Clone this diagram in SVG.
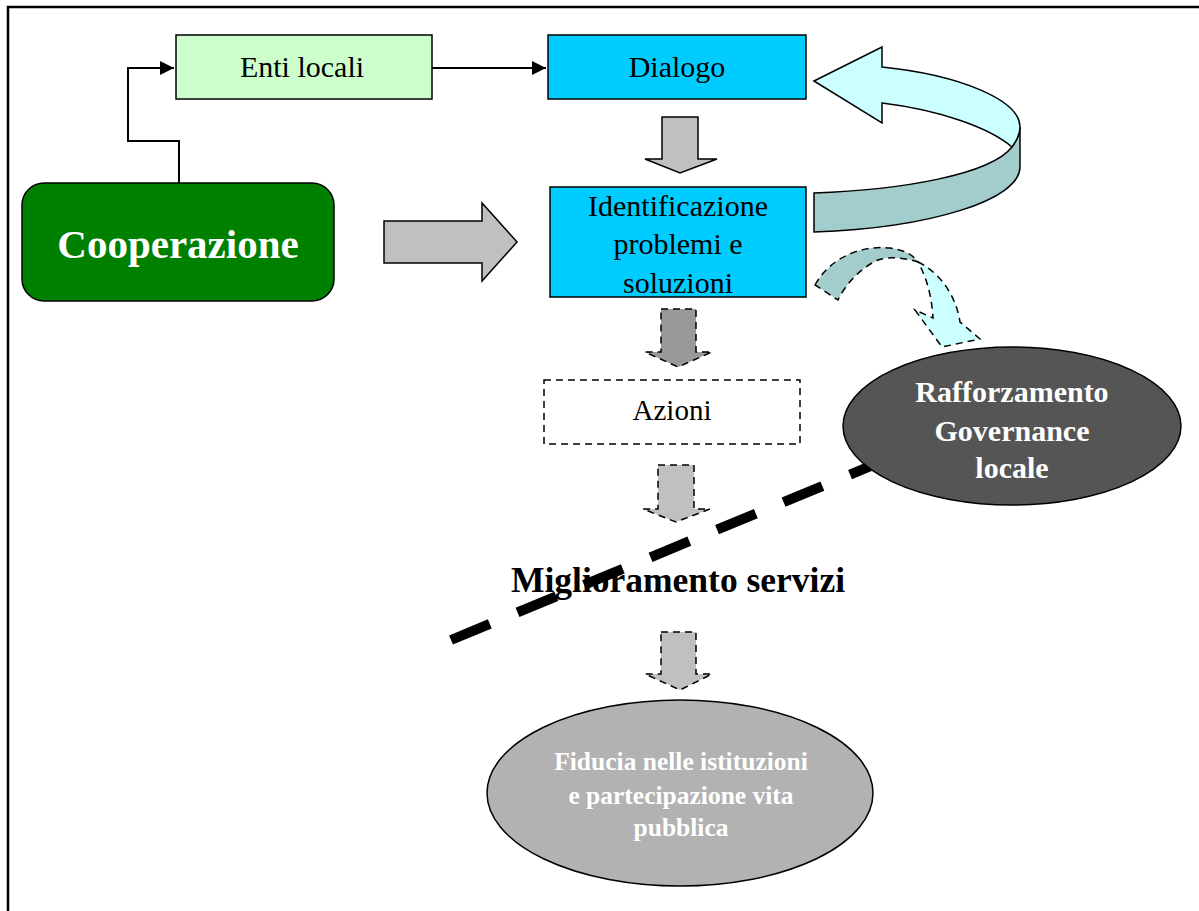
<svg xmlns="http://www.w3.org/2000/svg" width="1199" height="911" viewBox="0 0 1199 911">
<style>
.t{font-family:"Liberation Serif","Times New Roman",serif;fill:#000;text-anchor:middle}
.b{font-weight:bold}
.w{fill:#fff}
.box{stroke:#000;stroke-width:1.5}
.blk{fill:#c0c0c0;stroke:#000;stroke-width:1.5;stroke-linejoin:miter}
.dsh{stroke:#000;stroke-width:1.5;stroke-dasharray:7,5}
.ln{fill:none;stroke:#000;stroke-width:2}
</style>
<defs>
<marker id="ah" viewBox="0 0 14 14" refX="14" refY="7" markerWidth="14" markerHeight="14" markerUnits="userSpaceOnUse" orient="auto">
<path d="M0,0 L14,7 L0,14 Z" fill="#000"/>
</marker>
</defs>
<rect width="1199" height="911" fill="#fff"/>
<rect x="8" y="7" width="1300" height="1000" fill="none" stroke="#000" stroke-width="2.5"/>

<g id="connectors">
<polyline class="ln" points="179,183 179,141 128,141 128,68 174,68" stroke-width="2" marker-end="url(#ah)"/>
<line class="ln" x1="432" y1="68" x2="546" y2="68" stroke-width="2.5" marker-end="url(#ah)"/>
<path class="blk" d="M384,221 L482,221 L482,203 L517,242 L482,281 L482,263 L384,263 Z"/>
<path class="blk" d="M662,117 L698,117 L698,159 L717,159 L680,173 L645,159 L662,159 Z"/>
<path class="dsh" fill="#999999" d="M661,309 L696,309 L696,352 L712,352 L678,367 L645,352 L661,352 Z"/>
<path class="dsh" fill="#c0c0c0" d="M658,465 L694,465 L694,509 L710,509 L676,522 L643,509 L658,509 Z"/>
<path class="dsh" fill="#c0c0c0" d="M661,632 L696,632 L696,674 L712,674 L680,690 L645,674 L661,674 Z"/>
<line x1="451" y1="640" x2="890" y2="458" stroke="#000" stroke-width="10" stroke-dasharray="42,30"/>
</g>

<g id="loop-arrow">
<path fill="#a3cccc" stroke="#000" stroke-width="1.5" d="M814,193 C900,190 990,175 1012,147 C1017,140 1020,133 1020,127 L1020,167 C1020,200 930,228 814,232 Z"/>
<path fill="#ccffff" stroke="#000" stroke-width="1.5" d="M814,81 L882,47 L882,67 C960,75 1020,100 1020,127 C1020,135 1016,141 1012,147 C990,128 940,110 882,103 L882,123 Z"/>
</g>

<g id="enti-locali">
<rect class="box" x="176" y="35" width="256" height="64" fill="#ccffcc"/>
<text class="t" x="302" y="77" font-size="30">Enti locali</text>
</g>

<g id="dialogo">
<rect class="box" x="548" y="35" width="258" height="64" fill="#00ccff"/>
<text class="t" x="677" y="77" font-size="30">Dialogo</text>
</g>

<g id="cooperazione">
<rect class="box" x="22" y="183" width="312" height="118" rx="22" fill="#008000"/>
<text class="t b w" x="178" y="258" font-size="41">Cooperazione</text>
</g>

<g id="identificazione">
<rect class="box" x="550" y="187" width="256" height="110" fill="#00ccff"/>
<text class="t" x="678" y="216" font-size="30">Identificazione</text>
<text class="t" x="678" y="254" font-size="30">problemi e</text>
<text class="t" x="678" y="293" font-size="30">soluzioni</text>
</g>

<g id="azioni">
<rect class="dsh" x="544" y="380" width="256" height="64" fill="none"/>
<text class="t" x="672" y="420" font-size="29">Azioni</text>
</g>

<g id="miglioramento">
<text class="t b" x="678" y="592" font-size="35.5">Miglioramento servizi</text>
</g>

<g id="rafforzamento">
<ellipse cx="1012" cy="426" rx="169" ry="79" fill="#555555" stroke="#000" stroke-width="1.5"/>
<text class="t b w" x="1012" y="402" font-size="30">Rafforzamento</text>
<text class="t b w" x="1012" y="441" font-size="30">Governance</text>
<text class="t b w" x="1012" y="478" font-size="30">locale</text>
</g>

<g id="small-arrow">
<path class="dsh" fill="#a3cccc" d="M815,285 C830,258 860,245 890,248 C905,250 913,255 918,262 C905,258 890,256 878,260 C860,268 845,285 838,300 Z"/>
<path class="dsh" fill="#ccffff" d="M918,262 C935,270 955,290 960,322 L980,339 L942,347 L915,310 L933,318 C932,300 928,280 918,262 Z"/>
</g>

<g id="fiducia">
<ellipse cx="680" cy="793" rx="193" ry="93" fill="#b2b2b2" stroke="#000" stroke-width="1.5"/>
<text class="t b w" x="681" y="770" font-size="25.5">Fiducia nelle istituzioni</text>
<text class="t b w" x="681" y="804" font-size="25.5">e partecipazione vita</text>
<text class="t b w" x="681" y="836" font-size="25.5">pubblica</text>
</g>
</svg>
